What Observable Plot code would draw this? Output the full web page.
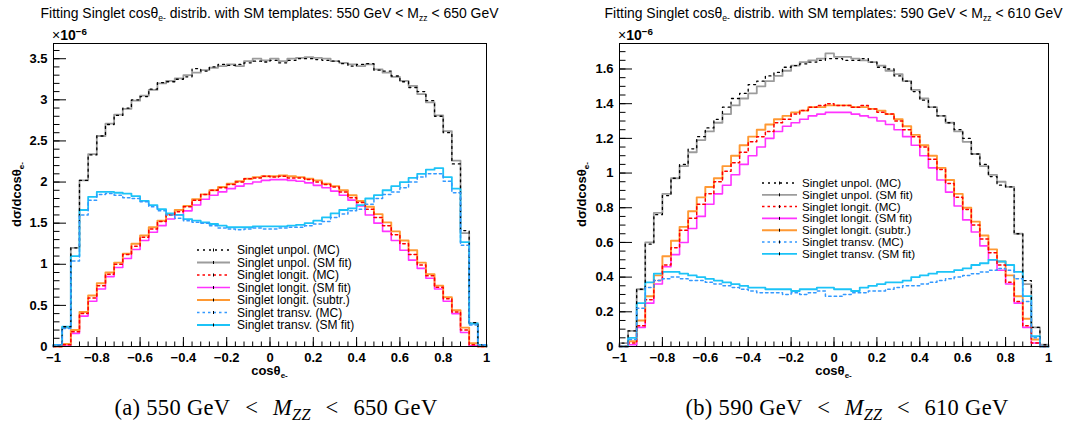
<!DOCTYPE html>
<html><head><meta charset="utf-8">
<script src="https://cdn.jsdelivr.net/npm/d3@7"></script>
<script src="https://cdn.jsdelivr.net/npm/@observablehq/plot@0.6"></script>
<style>
body{margin:0;background:#fff;}
#wrap{position:relative;width:1085px;height:426px;overflow:hidden;font-family:"Liberation Sans",Arial,sans-serif;color:#000;}
.abs{position:absolute;white-space:nowrap;line-height:1;}
.sub{font-size:0.62em;position:relative;top:0.4em;}
.sup{font-size:0.7em;position:relative;top:-0.55em;}
.cap{font-family:"Liberation Serif","DejaVu Serif",serif;letter-spacing:0.3px;}
.rel{display:inline-block;}
.ytitle{transform-origin:0 0;font-weight:bold;}
</style></head><body><div id="wrap"></div>
<script>
// ---------- data (values x 1e-6), 50 bins of width 0.04 from -1 to 1 ----------
const binEdges = d3.range(51).map(i => Math.round((-1 + i * 0.04) * 100) / 100);
const legendLabels = ["Singlet unpol. (MC)", "Singlet unpol. (SM fit)", "Singlet longit. (MC)",
  "Singlet longit. (SM fit)", "Singlet longit. (subtr.)", "Singlet transv. (MC)", "Singlet transv. (SM fit)"];
const xTickLabels = [-1, -0.8, -0.6, -0.4, -0.2, 0, 0.2, 0.4, 0.6, 0.8, 1];
const yTickLabelsA = [0, 0.5, 1, 1.5, 2, 2.5, 3, 3.5];
const yTickLabelsB = [0, 0.2, 0.4, 0.6, 0.8, 1, 1.2, 1.4, 1.6];

// panel (a): 550 GeV < Mzz < 650 GeV
const a_unpolMC = [0.02,0.24,1.20,2.02,2.33,2.56,2.70,2.81,2.90,3.00,3.04,3.13,3.21,3.22,3.25,3.28,3.38,3.35,3.40,3.43,3.42,3.43,3.45,3.47,3.46,
  3.48,3.45,3.48,3.50,3.50,3.49,3.48,3.47,3.44,3.41,3.43,3.44,3.36,3.35,3.29,3.22,3.15,3.10,2.99,2.80,2.60,2.22,1.41,0.29,0.02];
const a_unpolFit = [0.02,0.23,1.20,2.02,2.34,2.56,2.71,2.82,2.89,2.99,3.05,3.12,3.20,3.23,3.26,3.30,3.33,3.36,3.39,3.41,3.43,3.41,3.47,3.50,3.48,
  3.50,3.47,3.50,3.51,3.52,3.51,3.50,3.47,3.45,3.43,3.41,3.43,3.37,3.33,3.28,3.23,3.17,3.07,2.97,2.81,2.62,2.26,1.38,0.28,0.02];
const a_longMC = [0.00,0.02,0.18,0.40,0.59,0.74,0.88,1.00,1.12,1.22,1.33,1.43,1.52,1.60,1.64,1.70,1.78,1.85,1.90,1.93,1.97,2.00,2.04,2.05,2.07,
  2.06,2.07,2.05,2.05,2.03,2.00,1.97,1.94,1.88,1.81,1.75,1.67,1.57,1.47,1.36,1.25,1.12,0.99,0.86,0.72,0.58,0.42,0.20,0.02,0.00];
const a_longFit = [0.00,0.02,0.16,0.37,0.55,0.70,0.85,0.96,1.07,1.18,1.29,1.39,1.47,1.55,1.60,1.65,1.72,1.79,1.84,1.88,1.92,1.95,1.98,2.00,2.02,
  2.03,2.03,2.02,2.01,1.99,1.96,1.93,1.89,1.84,1.78,1.71,1.60,1.50,1.40,1.29,1.17,1.05,0.95,0.83,0.70,0.55,0.40,0.17,0.01,0.00];
const a_longSubtr = [0.00,0.03,0.20,0.42,0.62,0.77,0.90,1.02,1.13,1.25,1.35,1.45,1.53,1.61,1.66,1.71,1.79,1.85,1.90,1.94,1.98,2.01,2.04,2.06,2.07,
  2.07,2.08,2.07,2.06,2.04,2.02,1.98,1.95,1.90,1.84,1.77,1.70,1.61,1.51,1.40,1.29,1.17,1.02,0.88,0.74,0.60,0.44,0.23,0.04,0.00];
const a_transMC = [0.02,0.22,1.04,1.60,1.78,1.85,1.86,1.84,1.81,1.80,1.76,1.70,1.65,1.60,1.56,1.53,1.51,1.50,1.47,1.44,1.43,1.42,1.43,1.44,1.43,
  1.43,1.44,1.45,1.45,1.47,1.49,1.52,1.57,1.61,1.65,1.67,1.73,1.80,1.85,1.88,1.93,2.00,2.06,2.10,2.10,2.01,1.87,1.23,0.26,0.02];
const a_transFit = [0.02,0.24,1.10,1.66,1.82,1.88,1.88,1.87,1.86,1.83,1.77,1.72,1.67,1.62,1.60,1.55,1.53,1.51,1.49,1.47,1.45,1.45,1.45,1.46,1.46,
  1.46,1.46,1.47,1.48,1.50,1.53,1.57,1.62,1.66,1.68,1.72,1.80,1.84,1.90,1.95,2.00,2.05,2.10,2.15,2.17,2.06,1.92,1.27,0.28,0.02];

// panel (b): 590 GeV < Mzz < 610 GeV
const b_unpolMC = [0.02,0.09,0.33,0.59,0.76,0.87,0.97,1.05,1.14,1.21,1.26,1.31,1.38,1.43,1.46,1.51,1.53,1.56,1.58,1.61,1.62,1.63,1.64,1.65,1.66,
  1.66,1.65,1.65,1.66,1.64,1.61,1.60,1.56,1.53,1.47,1.42,1.38,1.33,1.29,1.25,1.20,1.11,1.05,0.98,0.93,0.92,0.65,0.38,0.11,0.01];
const b_unpolFit = [0.02,0.09,0.33,0.60,0.77,0.88,0.97,1.04,1.12,1.19,1.24,1.29,1.34,1.39,1.43,1.46,1.50,1.53,1.56,1.59,1.62,1.64,1.65,1.66,1.69,
  1.67,1.67,1.66,1.65,1.64,1.62,1.59,1.57,1.53,1.48,1.43,1.38,1.33,1.29,1.24,1.18,1.11,1.04,0.99,0.95,0.92,0.65,0.36,0.11,0.01];
const b_longMC = [0.00,0.02,0.12,0.27,0.38,0.47,0.57,0.67,0.74,0.82,0.88,0.95,1.01,1.06,1.12,1.18,1.21,1.24,1.29,1.31,1.34,1.36,1.38,1.39,1.40,
  1.39,1.39,1.38,1.39,1.37,1.35,1.34,1.30,1.25,1.21,1.15,1.08,1.02,0.94,0.86,0.79,0.70,0.62,0.54,0.47,0.37,0.26,0.12,0.02,0.00];
const b_longFit = [0.00,0.01,0.11,0.25,0.36,0.46,0.53,0.60,0.68,0.75,0.82,0.88,0.93,0.99,1.05,1.10,1.15,1.20,1.24,1.27,1.29,1.31,1.33,1.34,1.35,
  1.35,1.35,1.34,1.33,1.32,1.30,1.28,1.25,1.21,1.16,1.10,1.03,0.96,0.89,0.81,0.73,0.66,0.58,0.50,0.44,0.36,0.25,0.11,0.02,0.00];
const b_longSubtr = [0.00,0.03,0.15,0.29,0.41,0.52,0.61,0.69,0.78,0.86,0.92,0.97,1.04,1.10,1.16,1.21,1.25,1.28,1.31,1.33,1.35,1.36,1.38,1.38,1.39,
  1.39,1.39,1.38,1.38,1.37,1.36,1.34,1.31,1.27,1.22,1.16,1.10,1.03,0.96,0.88,0.80,0.72,0.64,0.56,0.49,0.41,0.29,0.16,0.04,0.00];
const b_transMC = [0.00,0.04,0.22,0.34,0.38,0.39,0.40,0.39,0.38,0.38,0.37,0.36,0.35,0.34,0.33,0.32,0.31,0.31,0.31,0.30,0.31,0.30,0.31,0.32,0.29,
  0.29,0.30,0.31,0.31,0.32,0.32,0.33,0.34,0.35,0.35,0.36,0.37,0.38,0.39,0.40,0.41,0.42,0.43,0.44,0.45,0.44,0.39,0.26,0.05,0.00];
const b_transFit = [0.00,0.05,0.25,0.37,0.42,0.43,0.43,0.42,0.41,0.40,0.39,0.38,0.37,0.36,0.35,0.34,0.34,0.33,0.33,0.33,0.32,0.33,0.33,0.34,0.34,
  0.33,0.33,0.32,0.34,0.35,0.36,0.37,0.37,0.38,0.40,0.41,0.42,0.43,0.43,0.44,0.45,0.47,0.48,0.50,0.49,0.47,0.43,0.29,0.06,0.00];

// ---------- styles ----------
const styles = [
  {stroke:"#000000", dash:"2,4", w:1.3},   // unpol MC
  {stroke:"#9c9c9c", dash:null,  w:1.8},   // unpol SM fit
  {stroke:"#ff0000", dash:"2.5,3", w:1.5},   // longit MC
  {stroke:"#ff33ff", dash:null,  w:1.6},   // longit SM fit
  {stroke:"#ff9933", dash:null,  w:1.9},   // longit subtr
  {stroke:"#3399ff", dash:"2.5,3", w:1.5},   // transv MC
  {stroke:"#1cc3f7", dash:null,  w:1.8}    // transv SM fit
];
const drawOrder = [1,3,4,6,0,2,5];
const fmt = d => (d < 0 ? "\u2212" : "") + String(Math.abs(d));

function stepPoints(vals){
  const pts = [{x:binEdges[0], y:0}];
  vals.forEach((v,i) => { pts.push({x:binEdges[i], y:v}, {x:binEdges[i+1], y:v}); });
  pts.push({x:binEdges[binEdges.length-1], y:0});
  return pts;
}

const panels = [
  {left:0, width:540, mL:53, mR:54, yMax:3.685, yLabels:yTickLabelsA, yMinor:0.1,
   series:[a_unpolMC,a_unpolFit,a_longMC,a_longFit,a_longSubtr,a_transMC,a_transFit],
   lo:"550", hi:"650", leg:{x1:197, x2:230, tx:237, y0:250, dy:12.5, fs:12}, capCx:276, capLabel:"(a)"},
  {left:565, width:520, mL:54, mR:37, yMax:1.747, yLabels:yTickLabelsB, yMinor:0.05,
   series:[b_unpolMC,b_unpolFit,b_longMC,b_longFit,b_longSubtr,b_transMC,b_transFit],
   lo:"590", hi:"610", leg:{x1:762, x2:797, tx:802, y0:183, dy:11.8, fs:11.6}, capCx:847, capLabel:"(b)"}
];

const wrap = document.getElementById("wrap");
const H = 392, mT = 43, mB = 46;

function fitWidth(el, target){
  const w = el.getBoundingClientRect().width;
  const fs = parseFloat(el.style.fontSize);
  el.style.fontSize = (fs * target / w).toFixed(2) + "px";
}

panels.forEach(p => {
  const frameW = p.width - p.mL - p.mR, frameH = H - mT - mB;
  const pxX = frameW / 2, pxY = frameH / p.yMax;
  const nMinor = Math.floor(p.yMax / p.yMinor + 1e-9);
  const yMinor = d3.range(nMinor + 1).map(i => Math.round(i * p.yMinor * 1000) / 1000);
  const marks = [
    Plot.ruleX(binEdges, {x: d => d, y1: 0, y2: 4.5 / pxY, stroke: "black", strokeWidth: 1}),
    Plot.ruleX(xTickLabels, {x: d => d, y1: 0, y2: 9 / pxY, stroke: "black", strokeWidth: 1}),
    Plot.ruleY(yMinor, {y: d => d, x1: -1, x2: -1 + 6.5 / pxX, stroke: "black", strokeWidth: 1}),
    Plot.ruleY(p.yLabels, {y: d => d, x1: -1, x2: -1 + 13 / pxX, stroke: "black", strokeWidth: 1}),
    Plot.axisX(xTickLabels, {tickSize: 0, tickPadding: 6, label: null, tickFormat: fmt, fontWeight: "bold", fontSize: 13}),
    Plot.axisY(p.yLabels, {tickSize: 0, tickPadding: 6, label: null, tickFormat: fmt, fontWeight: "bold", fontSize: 13})
  ];
  drawOrder.forEach(k => {
    const s = styles[k];
    marks.push(Plot.line(stepPoints(p.series[k]), {x: "x", y: "y", stroke: s.stroke, strokeWidth: s.w,
      strokeDasharray: s.dash || undefined, curve: "linear"}));
  });
  marks.push(Plot.frame({stroke: "black", strokeWidth: 1}));
  const svg = Plot.plot({
    width: p.width, height: H,
    marginLeft: p.mL, marginRight: p.mR, marginTop: mT, marginBottom: mB,
    x: {domain: [-1, 1], axis: null},
    y: {domain: [0, p.yMax], axis: null},
    style: {fontFamily: "'Liberation Sans', Arial, sans-serif", fontSize: "13px", background: "transparent", overflow: "visible"},
    marks
  });
  svg.style.position = "absolute";
  svg.style.left = p.left + "px";
  svg.style.top = "0px";
  wrap.appendChild(svg);

  const cx = p.left + p.mL + frameW / 2;
  // title
  const t = document.createElement("div");
  t.className = "abs";
  t.style.fontSize = "13px";
  t.innerHTML = `Fitting Singlet cos&theta;<span class="sub">e-</span> distrib. with SM templates: ${p.lo} GeV &lt; M<span class="sub">zz</span> &lt; ${p.hi} GeV`;
  wrap.appendChild(t);
  fitWidth(t, 458);
  const tw = t.getBoundingClientRect().width;
  t.style.left = (cx - tw / 2) + "px";
  t.style.top = "7px";

  // x10^-6
  const e = document.createElement("div");
  e.className = "abs";
  e.style.fontSize = "14px";
  e.style.fontWeight = "bold";
  e.innerHTML = `<span style="font-weight:normal">&times;</span>10<span class="sup">&minus;6</span>`;
  e.style.left = (p.left + p.mL - 1) + "px";
  e.style.top = "28px";
  wrap.appendChild(e);

  // y title
  const yt = document.createElement("div");
  yt.className = "abs ytitle";
  yt.style.fontSize = "13px";
  yt.innerHTML = `d&sigma;/dcos&theta;<span class="sub">e-</span>`;
  wrap.appendChild(yt);
  const yw = yt.getBoundingClientRect().width;
  const yCenter = mT + frameH / 2;
  yt.style.left = (p.left + 10) + "px";
  yt.style.top = (yCenter + yw / 2) + "px";
  yt.style.transform = "rotate(-90deg)";

  // x title
  const xt = document.createElement("div");
  xt.className = "abs";
  xt.style.fontSize = "13px";
  xt.style.fontWeight = "bold";
  xt.innerHTML = `cos&theta;<span class="sub">e-</span>`;
  wrap.appendChild(xt);
  const xw = xt.getBoundingClientRect().width;
  xt.style.left = (cx - xw / 2) + "px";
  xt.style.top = "364px";

  // caption
  const c = document.createElement("div");
  c.className = "abs cap";
  c.style.fontSize = "22.5px";
  c.innerHTML = `${p.capLabel} ${p.lo} GeV<span class="rel">&lt;</span><i>M</i><span class="sub" style="font-style:italic;font-size:0.72em;top:0.3em">ZZ</span><span class="rel">&lt;</span>${p.hi} GeV`;
  wrap.appendChild(c);
  const w0 = c.getBoundingClientRect().width;
  const gap = Math.max(2, (323 - w0) / 4);
  c.querySelectorAll(".rel").forEach(r => { r.style.margin = `0 ${gap.toFixed(2)}px`; });
  const cw = c.getBoundingClientRect().width;
  c.style.left = (p.capCx - cw / 2) + "px";
  c.style.top = "397px";

  // legend
  const L = p.leg;
  const lg = d3.select(wrap).append("svg")
    .attr("width", 1085).attr("height", 426)
    .style("position", "absolute").style("left", "0px").style("top", "0px");
  legendLabels.forEach((lab, k) => {
    const s = styles[k];
    const y = L.y0 + k * L.dy;
    lg.append("line").attr("x1", L.x1).attr("x2", L.x2).attr("y1", y).attr("y2", y)
      .attr("stroke", s.stroke).attr("stroke-width", s.w).attr("stroke-dasharray", s.dash || null);
    lg.append("line").attr("x1", (L.x1 + L.x2) / 2).attr("x2", (L.x1 + L.x2) / 2).attr("y1", y - 1.5).attr("y2", y + 1.5)
      .attr("stroke", "#000").attr("stroke-width", 1);
    lg.append("text").attr("x", L.tx).attr("y", y).attr("dy", "0.35em")
      .attr("font-family", "'Liberation Sans', Arial, sans-serif").attr("font-size", L.fs).text(lab);
  });
});
</script></body></html>
